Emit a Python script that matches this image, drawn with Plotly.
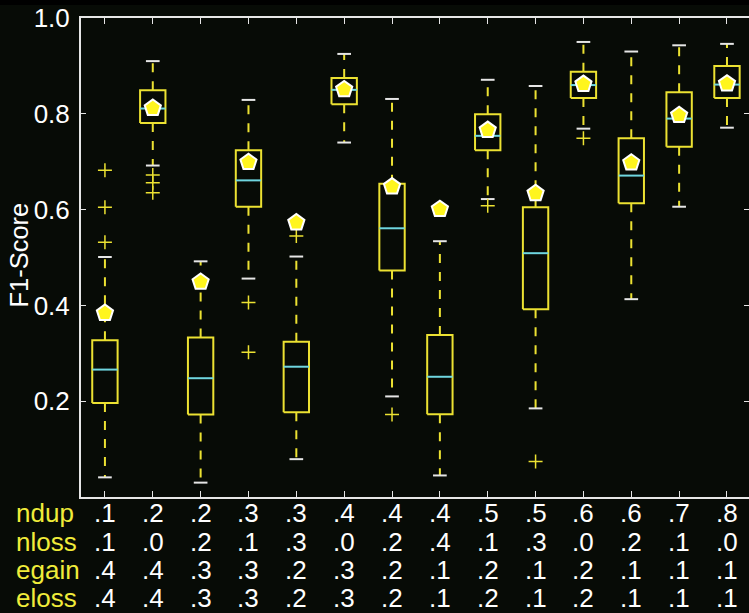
import plotly.graph_objects as go

# ---- data ----
ndup  = [".1", ".2", ".2", ".3", ".3", ".4", ".4", ".4", ".5", ".5", ".6", ".6", ".7", ".8"]
nloss = [".1", ".0", ".2", ".1", ".3", ".0", ".2", ".4", ".1", ".3", ".0", ".2", ".1", ".0"]
egain = [".4", ".4", ".3", ".3", ".2", ".3", ".2", ".1", ".2", ".1", ".2", ".1", ".1", ".1"]
eloss = [".4", ".4", ".3", ".3", ".2", ".3", ".2", ".1", ".2", ".1", ".2", ".1", ".1", ".1"]
row_names = ["ndup", "nloss", "egain", "eloss"]

upper  = [0.501, 0.910, 0.492, 0.829, 0.502, 0.925, 0.831, 0.534, 0.871, 0.858, 0.950, 0.930, 0.943, 0.946]
q3     = [0.327, 0.849, 0.333, 0.724, 0.324, 0.875, 0.654, 0.338, 0.799, 0.605, 0.888, 0.749, 0.845, 0.900]
median = [0.266, 0.811, 0.248, 0.661, 0.272, 0.850, 0.561, 0.251, 0.754, 0.509, 0.860, 0.671, 0.790, 0.861]
q1     = [0.196, 0.781, 0.172, 0.606, 0.177, 0.820, 0.473, 0.173, 0.724, 0.392, 0.833, 0.613, 0.731, 0.833]
lower  = [0.041, 0.692, 0.030, 0.456, 0.079, 0.740, 0.210, 0.045, 0.622, 0.185, 0.769, 0.413, 0.606, 0.771]
pent   = [0.384, 0.812, 0.449, 0.699, 0.573, 0.851, 0.648, 0.601, 0.766, 0.634, 0.862, 0.698, 0.797, 0.863]

outliers = {
    1: [0.682, 0.605, 0.532],
    2: [0.672, 0.656, 0.635],
    4: [0.406, 0.302],
    5: [0.545],
    7: [0.172],
    9: [0.608],
    10: [0.074],
    11: [0.749],
}

yticks = [0.2, 0.4, 0.6, 0.8, 1.0]

# ---- style ----
BG = "#070b06"
YEL = "#ece232"
YEL_TXT = "#f0ec3a"
CYAN = "#6fd6df"
WHITE = "#e6e6e6"
BOX_HW = 0.265
CAP_HW = 0.143
FONT = "Liberation Sans, Arial"

n = len(median)
xs = list(range(1, n + 1))

def flat(segs):
    xx, yy = [], []
    for sx, sy in segs:
        xx += sx + [None]
        yy += sy + [None]
    return xx, yy

fig = go.Figure()

# whiskers (dashed)
wx, wy = flat([([x, x], [a, b]) for x, a, b in zip(xs, q3, upper)] +
              [([x, x], [a, b]) for x, a, b in zip(xs, q1, lower)])
fig.add_trace(go.Scatter(x=wx, y=wy, mode="lines",
                         line=dict(color=YEL, width=2, dash="9px,9px"),
                         hoverinfo="skip", showlegend=False))

# boxes
bx, by = flat([([x - BOX_HW, x + BOX_HW, x + BOX_HW, x - BOX_HW, x - BOX_HW],
                [a, a, b, b, a]) for x, a, b in zip(xs, q1, q3)])
fig.add_trace(go.Scatter(x=bx, y=by, mode="lines",
                         line=dict(color=YEL, width=2),
                         hoverinfo="skip", showlegend=False))

# medians
mx, my = flat([([x - BOX_HW, x + BOX_HW], [m, m]) for x, m in zip(xs, median)])
fig.add_trace(go.Scatter(x=mx, y=my, mode="lines",
                         line=dict(color=CYAN, width=2),
                         hoverinfo="skip", showlegend=False))

# caps
cx, cy = flat([([x - CAP_HW, x + CAP_HW], [v, v]) for x, v in zip(xs, upper)] +
              [([x - CAP_HW, x + CAP_HW], [v, v]) for x, v in zip(xs, lower)])
fig.add_trace(go.Scatter(x=cx, y=cy, mode="lines",
                         line=dict(color=WHITE, width=2),
                         hoverinfo="skip", showlegend=False))

# outliers
ox, oy = [], []
for k, vals in outliers.items():
    for v in vals:
        ox.append(k)
        oy.append(v)
fig.add_trace(go.Scatter(x=ox, y=oy, mode="markers",
                         marker=dict(symbol="cross-thin", size=10,
                                     line=dict(color=YEL, width=1.5)),
                         hoverinfo="skip", showlegend=False))

# pentagons
fig.add_trace(go.Scatter(x=xs, y=pent, mode="markers",
                         marker=dict(symbol="pentagon", size=17, color="#fff51e",
                                     line=dict(color="white", width=2)),
                         hoverinfo="skip", showlegend=False))

# x label rows
rows = [ndup, nloss, egain, eloss]
row_y = [513, 541.5, 570, 598]  # pixel centres
H = 613
T, B = 18, 116
ph = H - T - B
annotations = []
for r, (name, vals) in enumerate(zip(row_names, rows)):
    yp = (H - B - row_y[r]) / ph
    annotations.append(dict(text=name, xref="paper", yref="paper", x=0, y=yp,
                            xshift=-67, xanchor="left", yanchor="middle",
                            showarrow=False,
                            font=dict(family=FONT, size=26, color=YEL_TXT)))
    for x, v in zip(xs, vals):
        annotations.append(dict(text=v, xref="x", yref="paper", x=x, y=yp,
                                xanchor="center", yanchor="middle", showarrow=False,
                                font=dict(family=FONT, size=26, color="white")))

annotations.append(dict(text="F1-Score", xref="paper", yref="paper", x=0, y=0.504,
                        xshift=-62, xanchor="center", yanchor="middle", textangle=-90,
                        showarrow=False,
                        font=dict(family=FONT, size=25.5, color="white")))

fig.update_layout(
    width=749, height=613,
    margin=dict(l=81, r=0, t=T, b=B, autoexpand=False),
    paper_bgcolor=BG, plot_bgcolor=BG,
    showlegend=False,
    annotations=annotations,
    shapes=[dict(type="rect", xref="paper", yref="paper",
                 x0=-0.2, x1=1.1, y0=(ph + T - 5) / ph, y1=(ph + T + 2) / ph,
                 fillcolor="black", line=dict(width=0), layer="below")],
)
fig.update_xaxes(range=[0.5, 0.5 + 668 / 47.85], showgrid=False, zeroline=False,
                 automargin=False,
                 showline=True, linecolor=WHITE, linewidth=2, mirror="ticks",
                 ticks="inside", ticklen=6, tickcolor=WHITE, tickwidth=1,
                 tickvals=xs, showticklabels=False)
fig.update_yaxes(range=[0, 1], showgrid=False, zeroline=False,
                 automargin=False,
                 showline=True, linecolor=WHITE, linewidth=2, mirror="ticks",
                 ticks="inside", ticklen=5, tickcolor=WHITE, tickwidth=1,
                 tickvals=yticks, ticktext=["%.1f" % v for v in yticks],
                 tickfont=dict(family=FONT, size=26, color="white"),
                 ticklabelstandoff=4)

fig.write_html(
    "out.html",
    config={"displayModeBar": False},
    post_script="document.body.style.margin='0';document.body.style.overflow='hidden';"
                "document.body.style.background='" + BG + "';",
)
